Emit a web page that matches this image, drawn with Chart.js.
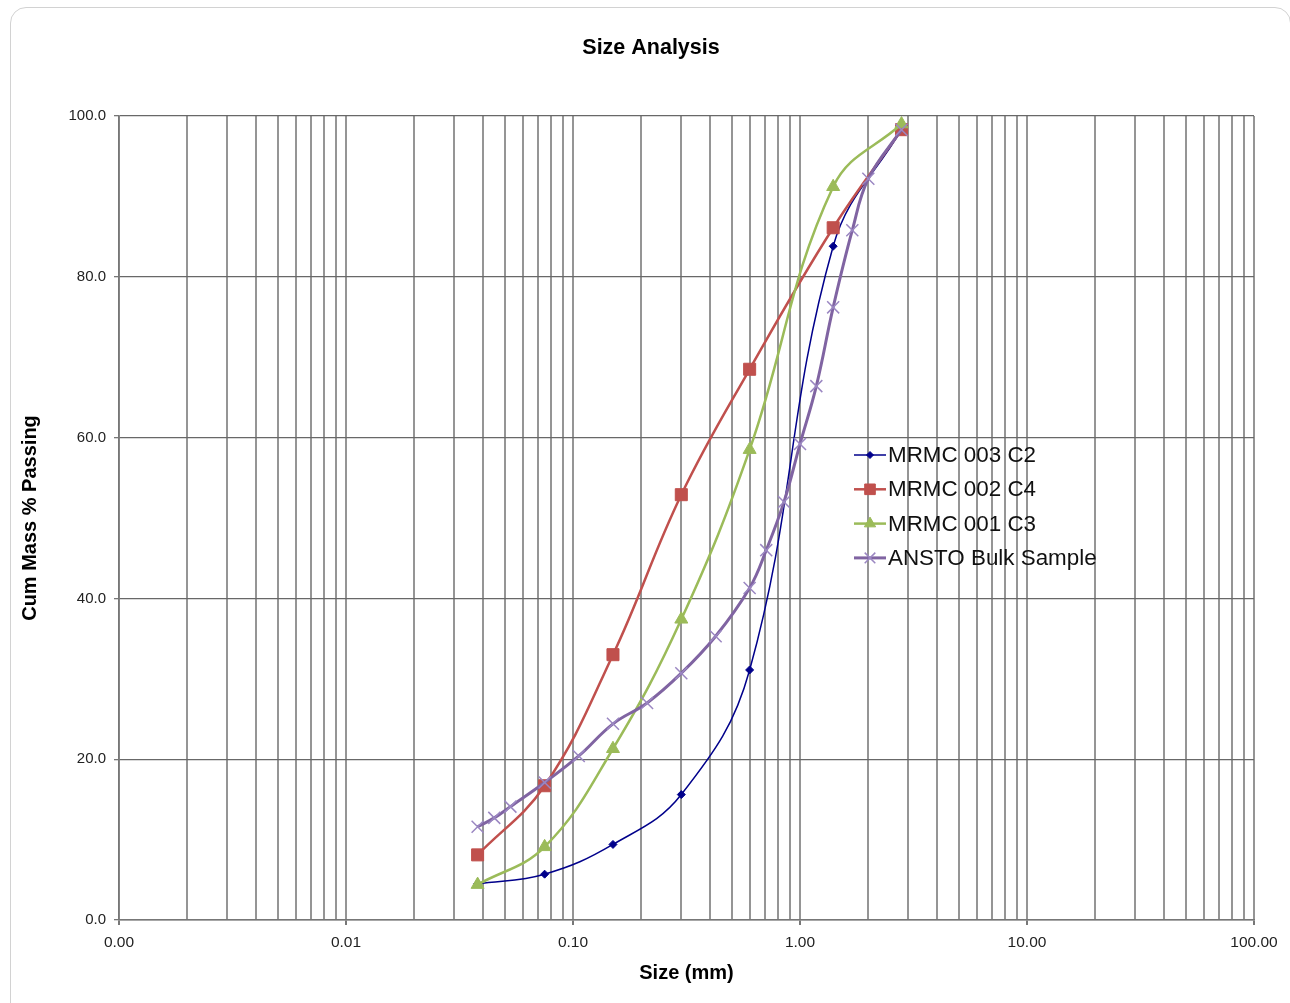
<!DOCTYPE html>
<html>
<head>
<meta charset="utf-8">
<title>Size Analysis</title>
<script src="https://cdn.jsdelivr.net/npm/chart.js@4.4.1/dist/chart.umd.min.js"></script>
<style>
  html, body { margin: 0; padding: 0; background: #fff; }
  body { width: 1290px; height: 1003px; position: relative; overflow: hidden; }
  #frame {
    position: absolute; left: 10px; top: 7px; width: 1281px; height: 1020px;
    border: 1px solid #d2d2d2; border-radius: 16px; box-sizing: border-box;
  }
  #wrap { position: absolute; left: 0; top: 0; width: 1290px; height: 1003px; }
</style>
</head>
<body>
<div id="frame"></div>
<div id="wrap"><canvas id="sizeChart" width="1290" height="1003"></canvas></div>
<script>
  const chartTitle = 'Size Analysis';
  const xAxisTitle = 'Size (mm)';
  const yAxisTitle = 'Cum Mass % Passing';

  // sieve sizes (mm) used by the three MRMC samples
  const sieveSizes = [0.038, 0.075, 0.15, 0.3, 0.6, 1.4, 2.8];
  const mrmc003C2 = [4.5, 5.7, 9.4, 15.6, 31.1, 83.8, 98.3];
  const mrmc002C4 = [8.1, 16.7, 33.0, 52.9, 68.5, 86.1, 98.3];
  const mrmc001C3 = [4.4, 9.1, 21.3, 37.4, 58.5, 91.2, 99.0];

  // ANSTO bulk sample was run on a finer sieve stack
  const anstoSizes = [0.038, 0.045, 0.053, 0.075, 0.106, 0.15, 0.212, 0.3, 0.425, 0.6, 0.71, 0.85, 1.0, 1.18, 1.4, 1.7, 2.0, 2.8];
  const anstoBulk = [11.6, 12.7, 14.1, 17.1, 20.4, 24.4, 27.0, 30.7, 35.3, 41.3, 46.0, 52.0, 59.2, 66.4, 76.2, 85.8, 92.2, 98.3];

  const seriesLabels = ['MRMC 003 C2', 'MRMC 002 C4', 'MRMC 001 C3', 'ANSTO Bulk Sample'];

  // log axis: labelled decades plus the 2..9 gridlines in between
  const xMajorTicks = [0.001, 0.01, 0.1, 1, 10, 100];
  const xMinorSteps = [2, 3, 4, 5, 6, 7, 8, 9];
  const yTicks = [0, 20, 40, 60, 80, 100];

  const VGRID = '#959595';
  const HGRID = '#686868';
  const AXIS = '#777777';
  const LABEL = '#222';

  const xGridValues = [];
  xMajorTicks.forEach((m, i) => {
    xGridValues.push(m);
    if (i < xMajorTicks.length - 1) {
      xMinorSteps.forEach(s => xGridValues.push(+(s * m).toPrecision(3)));
    }
  });

  function isMajor(v) {
    return xMajorTicks.some(m => Math.abs(m - v) < m * 1e-6);
  }

  function toPoints(xs, ys) {
    return xs.map((x, i) => ({ x: x, y: ys[i] }));
  }

  Chart.defaults.font.family = '"Liberation Sans", Arial, sans-serif';
  Chart.defaults.color = LABEL;

  // title centred on the whole panel, not on the plot
  const panelTitle = {
    id: 'panelTitle',
    afterDraw(chart) {
      const ctx = chart.ctx;
      ctx.save();
      ctx.font = 'bold 21.5px "Liberation Sans", Arial, sans-serif';
      ctx.fillStyle = '#000';
      ctx.textAlign = 'center';
      ctx.textBaseline = 'middle';
      ctx.fillText(chartTitle, 651, 48);
      ctx.restore();
    }
  };

  // excel-style legend sitting inside the plot, no box
  const insideLegend = {
    id: 'insideLegend',
    afterDatasetsDraw(chart) {
      const ctx = chart.ctx;
      const x0 = 854, y0 = 455, gap = 34.3, lineLen = 32;
      chart.data.datasets.forEach((ds, i) => {
        const y = y0 + i * gap;
        ctx.save();
        ctx.strokeStyle = ds.borderColor;
        ctx.lineWidth = ds.borderWidth;
        ctx.beginPath();
        ctx.moveTo(x0, y);
        ctx.lineTo(x0 + lineLen, y);
        ctx.stroke();
        if (Chart.helpers && Chart.helpers.drawPoint) {
          ctx.fillStyle = ds.pointBackgroundColor;
          ctx.strokeStyle = ds.pointBorderColor;
          ctx.lineWidth = ds.pointBorderWidth;
          Chart.helpers.drawPoint(ctx, {
            pointStyle: ds.pointStyle,
            radius: ds.legendRadius,
            borderWidth: ds.pointBorderWidth,
            rotation: 0
          }, x0 + lineLen / 2, y);
        }
        ctx.font = '22.4px "Liberation Sans", Arial, sans-serif';
        ctx.fillStyle = '#111';
        ctx.textAlign = 'left';
        ctx.textBaseline = 'middle';
        ctx.fillText(ds.label, x0 + lineLen + 2, y + 1);
        ctx.restore();
      });
    }
  };

  const ctx = document.getElementById('sizeChart').getContext('2d');
  const sizeChart = new Chart(ctx, {
    type: 'scatter',
    data: {
      datasets: [
        {
          label: seriesLabels[0],
          data: toPoints(sieveSizes, mrmc003C2),
          showLine: true,
          tension: 0.4,
          borderColor: '#00008b',
          backgroundColor: '#00008b',
          borderWidth: 1.5,
          pointStyle: 'rectRot',
          pointRadius: 4,
          legendRadius: 3.5,
          pointBackgroundColor: '#00008b',
          pointBorderColor: '#00008b',
          pointBorderWidth: 1,
          order: 4
        },
        {
          label: seriesLabels[1],
          data: toPoints(sieveSizes, mrmc002C4),
          showLine: true,
          tension: 0.4,
          borderColor: '#c0504d',
          backgroundColor: '#c0504d',
          borderWidth: 2.5,
          pointStyle: 'rect',
          pointRadius: 8.5,
          legendRadius: 7.5,
          pointBackgroundColor: '#c0504d',
          pointBorderColor: '#c0504d',
          pointBorderWidth: 1,
          order: 3
        },
        {
          label: seriesLabels[2],
          data: toPoints(sieveSizes, mrmc001C3),
          showLine: true,
          tension: 0.4,
          borderColor: '#9bbb59',
          backgroundColor: '#9bbb59',
          borderWidth: 2.5,
          pointStyle: 'triangle',
          pointRadius: 7.5,
          legendRadius: 6.5,
          pointBackgroundColor: '#9bbb59',
          pointBorderColor: '#9bbb59',
          pointBorderWidth: 1,
          order: 2
        },
        {
          label: seriesLabels[3],
          data: toPoints(anstoSizes, anstoBulk),
          showLine: true,
          tension: 0.4,
          borderColor: '#8064a2',
          backgroundColor: '#8064a2',
          borderWidth: 3,
          pointStyle: 'crossRot',
          pointRadius: 8.5,
          legendRadius: 7.5,
          pointBackgroundColor: '#9b87c2',
          pointBorderColor: '#9b87c2',
          pointBorderWidth: 1.5,
          order: 1
        }
      ]
    },
    options: {
      responsive: false,
      animation: false,
      devicePixelRatio: 1,
      layout: { padding: { top: 116, right: 36, bottom: 0, left: 0 } },
      plugins: {
        legend: { display: false },
        title: { display: false },
        tooltip: { enabled: false }
      },
      scales: {
        x: {
          type: 'logarithmic',
          min: 0.001,
          max: 100,
          afterBuildTicks: scale => {
            scale.ticks = xGridValues.map(v => ({ value: v }));
          },
          afterFit: scale => { scale.height = 83; },
          ticks: {
            autoSkip: false,
            maxRotation: 0,
            padding: 8,
            color: LABEL,
            font: { size: 15.5 },
            callback: v => (isMajor(v) ? Number(v).toFixed(2) : '')
          },
          grid: {
            color: VGRID,
            lineWidth: 2,
            tickLength: 5,
            tickColor: c => (c.tick && isMajor(c.tick.value) ? AXIS : 'rgba(0,0,0,0)')
          },
          border: { display: true, color: AXIS, width: 1.5 },
          title: {
            display: true,
            text: xAxisTitle,
            color: '#000',
            font: { size: 20, weight: 'bold' },
            padding: { top: 4, bottom: 18 }
          }
        },
        y: {
          min: 0,
          max: 100,
          afterBuildTicks: scale => {
            scale.ticks = yTicks.map(v => ({ value: v }));
          },
          afterFit: scale => { scale.width = 119; },
          ticks: {
            padding: 8,
            color: LABEL,
            font: { size: 15 },
            callback: v => Number(v).toFixed(1)
          },
          grid: { color: HGRID, lineWidth: 1.3, tickLength: 5, tickColor: AXIS },
          border: { display: true, color: AXIS, width: 1.5 },
          title: {
            display: true,
            text: yAxisTitle,
            color: '#000',
            font: { size: 20, weight: 'bold' },
            padding: { top: 18, bottom: 0 }
          }
        }
      }
    },
    plugins: [panelTitle, insideLegend]
  });
</script>
</body>
</html>
